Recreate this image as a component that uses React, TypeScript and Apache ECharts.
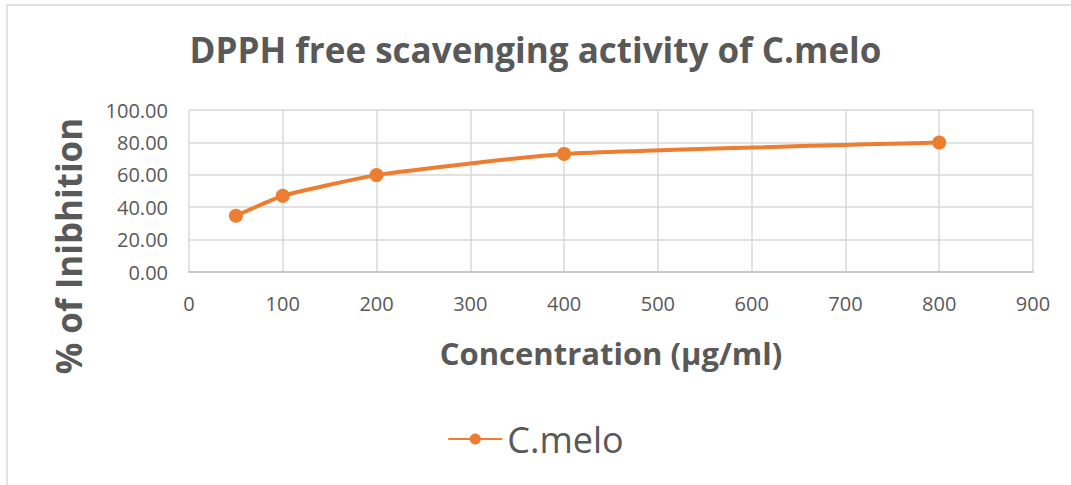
import React, { useEffect, useRef } from "react";
import * as echarts from "echarts";

const concentrations = [50, 100, 200, 400, 800];
const inhibition = [34.7, 47.0, 59.8, 72.9, 79.9];
const seriesName = "C.melo";
const titleText = "DPPH free scavenging activity of C.melo";
const xAxisTitle = "Concentration (µg/ml)";
const yAxisTitle = "% of Inibhition";

const FONT = "'Open Sans', 'Noto Sans', sans-serif";
const TEXT = "#595959";
const ORANGE = "#ED7D31";
const GRID = "#d9d9d9";

export default function App() {
  const ref = useRef<HTMLDivElement>(null);

  useEffect(() => {
    if (!ref.current) return;
    const chart = echarts.init(ref.current, undefined, { renderer: "svg" });
    chart.setOption({
      animation: false,
      backgroundColor: "#ffffff",
      title: {
        text: titleText,
        left: "center",
        top: 27,
        textStyle: { fontFamily: FONT, fontSize: 35, fontWeight: "bold", color: TEXT },
      },
      legend: {
        data: [seriesName],
        left: "center",
        top: 416,
        itemWidth: 54,
        itemHeight: 14,
        itemGap: 8,
        textStyle: { fontFamily: FONT, fontSize: 36, color: TEXT },
      },
      grid: { left: 189, right: 38, top: 110, bottom: 213, containLabel: false },
      xAxis: {
        type: "value",
        min: 0,
        max: 900,
        interval: 100,
        name: xAxisTitle,
        nameLocation: "middle",
        nameGap: 65,
        nameTextStyle: { fontFamily: FONT, fontSize: 31, fontWeight: "bold", color: TEXT },
        axisLine: { show: true, lineStyle: { color: "#bfbfbf", width: 1.5 } },
        axisTick: { show: false },
        axisLabel: { fontFamily: FONT, fontSize: 20, color: TEXT, margin: 21 },
        splitLine: { show: true, lineStyle: { color: GRID, width: 1.5 } },
      },
      yAxis: {
        type: "value",
        min: 0,
        max: 100,
        interval: 20,
        axisLine: { show: false },
        axisTick: { show: false },
        axisLabel: {
          fontFamily: FONT,
          fontSize: 20,
          color: TEXT,
          margin: 21,
          formatter: (v: number) => v.toFixed(2),
        },
        splitLine: { show: true, lineStyle: { color: GRID, width: 1.5 } },
      },
      graphic: [
        {
          type: "rect",
          shape: { x: 7, y: 5, width: 1200, height: 700 },
          style: { fill: "none", stroke: GRID, lineWidth: 1.5 },
          silent: true,
        },
        {
          type: "text",
          x: 68,
          y: 246,
          rotation: Math.PI / 2,
          style: {
            text: yAxisTitle,
            fontFamily: FONT,
            fontSize: 35,
            fontWeight: "bold",
            fill: TEXT,
            align: "center",
            verticalAlign: "middle",
          },
        },
      ],
      series: [
        {
          name: seriesName,
          type: "line",
          data: concentrations.map((c, i) => [c, inhibition[i]]),
          symbol: "circle",
          symbolSize: 14,
          smooth: 0.15,
          itemStyle: { color: ORANGE },
          lineStyle: { color: ORANGE, width: 4 },
        },
      ],
    });
    return () => chart.dispose();
  }, []);

  return (
    <div
      ref={ref}
      style={{ position: "absolute", left: 0, top: 0, width: 1071, height: 485 }}
    />
  );
}
